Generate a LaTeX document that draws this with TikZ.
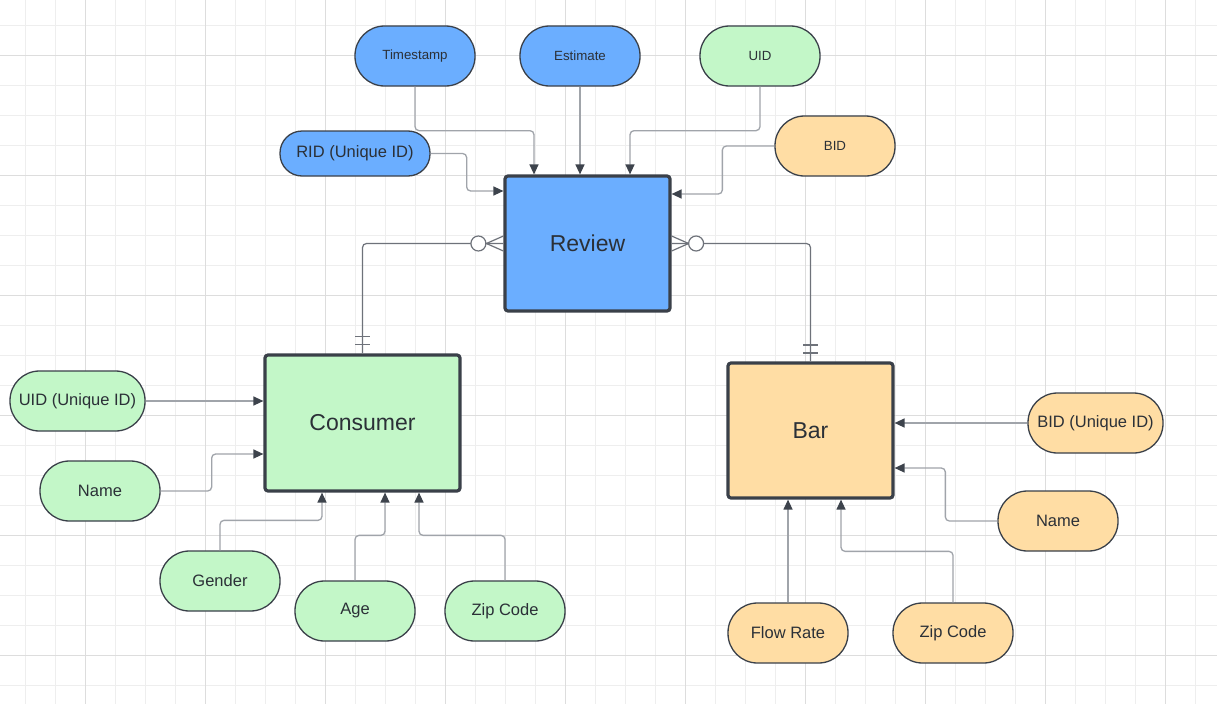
\documentclass[tikz,border=0pt]{standalone}
\usepackage{fontspec}
\setmainfont{Liberation Sans}
\usetikzlibrary{arrows.meta}
\definecolor{bluef}{HTML}{6BAEFF}
\definecolor{greenf}{HTML}{C3F7C8}
\definecolor{orangef}{HTML}{FFDDA4}
\definecolor{bord}{HTML}{3A4049}
\definecolor{txt}{HTML}{2B3037}
\definecolor{connc}{HTML}{A0A4AA}
\definecolor{tipc}{HTML}{3D434C}
\definecolor{relc}{HTML}{6E727A}
\definecolor{gridmin}{HTML}{EEEEEE}
\definecolor{gridmaj}{HTML}{DDDDDD}
\tikzset{
  entity/.style={draw=bord, line width=3.2pt, rounded corners=3pt, minimum width=#1, minimum height=135pt, inner sep=0pt, text=txt, font=\fontsize{23}{26}\selectfont},
  attr/.style={draw=bord, line width=1.3pt, rounded corners=29.5pt, minimum width=#1, minimum height=60pt, inner sep=0pt, text=txt, font=\fontsize{16.5}{19}\selectfont},
  sattr/.style={attr=120pt, font=\fontsize{13.3}{16}\selectfont},
  conn/.style={draw=connc, line width=1.3pt, rounded corners=4pt, -{Triangle[length=10pt,width=9pt,color=tipc]}},
  rel/.style={draw=relc, line width=1.2pt, rounded corners=4pt},
}
\begin{document}
\begin{tikzpicture}[x=1pt,y=-1pt]
\useasboundingbox (0,0) rectangle (1217,704);
\fill[white] (0,0) rectangle (1217,704);
% grid
\foreach \x in {25,55,...,1215} \draw[gridmin, line width=1pt] (\x,0) -- (\x,704);
\foreach \y in {25,55,...,700} \draw[gridmin, line width=1pt] (0,\y) -- (1217,\y);
\foreach \x in {85,205,...,1165} \draw[gridmaj, line width=1pt] (\x,0) -- (\x,704);
\foreach \y in {55,175,...,655} \draw[gridmaj, line width=1pt] (0,\y) -- (1217,\y);

% entities
\node[entity=165pt, fill=bluef] (rev) at (587.5,243.5) {Review};
\node[entity=195pt, fill=greenf, minimum height=136pt] (con) at (362.5,423) {Consumer};
\node[entity=165pt, fill=orangef] (bar) at (810.5,430.5) {Bar};

% review attributes
\node[sattr, fill=bluef] (ts) at (415,56) {Timestamp};
\node[sattr, fill=bluef] (est) at (580,56) {Estimate};
\node[sattr, fill=greenf] (uidt) at (760,56) {UID};
\node[sattr, fill=orangef] (bidt) at (835,146) {BID};
\node[attr=150pt, fill=bluef, minimum height=45pt, rounded corners=22pt] (rid) at (355,153.5) {RID (Unique ID)};

% consumer attributes
\node[attr=135pt, fill=greenf] (uidu) at (77.5,401) {UID (Unique ID)};
\node[attr=120pt, fill=greenf] (nameg) at (100,491) {Name};
\node[attr=120pt, fill=greenf] (gen) at (220,581) {Gender};
\node[attr=120pt, fill=greenf] (age) at (355,611) {Age};
\node[attr=120pt, fill=greenf] (zipg) at (505,611) {Zip Code};

% bar attributes
\node[attr=135pt, fill=orangef] (bidu) at (1095.5,423) {BID (Unique ID)};
\node[attr=120pt, fill=orangef] (nameo) at (1058,521) {Name};
\node[attr=120pt, fill=orangef] (flow) at (788,633) {Flow Rate};
\node[attr=120pt, fill=orangef] (zipo) at (953,633) {Zip Code};

% connectors to review
\draw[conn] (ts.south) -- ++(0,44) -| ([xshift=-53.5pt]rev.north);
\draw[conn] (est.south) -- (est.south |- rev.north);
\draw[conn] (uidt.south) -- ++(0,44) -| ([xshift=42.5pt]rev.north);
\draw[conn] (rid.east) -- ++(36,0) |- ([yshift=52.5pt]rev.west);
\draw[conn] (bidt.west) -- ++(-52,0) |- ([yshift=49.5pt]rev.east);

% connectors to consumer
\draw[conn] (uidu.east) -- (uidu.east -| con.west);
\draw[conn] (nameg.east) -- ++(51,0) |- ([yshift=-31pt]con.west);
\draw[conn] (gen.north) -- ++(0,-30) -| ([xshift=-40.5pt]con.south);
\draw[conn] (age.north) -- ++(0,-45) -| ([xshift=22.5pt]con.south);
\draw[conn] (zipg.north) -- ++(0,-45) -| ([xshift=56.5pt]con.south);

% connectors to bar
\draw[conn] (bidu.west) -- (bidu.west -| bar.east);
\draw[conn] (nameo.west) -- ++(-52,0) |- ([yshift=-37.5pt]bar.east);
\draw[conn] (flow.north) -- (flow.north |- bar.south);
\draw[conn] (zipo.north) -- ++(0,-51) -| ([xshift=30.5pt]bar.south);

% relationship review - consumer
\draw[rel] (rev.west) -| (con.north);
\draw[rel, rounded corners=0pt] ([yshift=7.5pt]rev.west) -- ([xshift=-17pt]rev.west) -- ([yshift=-7.5pt]rev.west);
\draw[rel, rounded corners=0pt] ([xshift=-17pt]rev.west) -- (rev.west);
\draw[rel, fill=white] ([xshift=-25pt]rev.west) circle (7.5pt);
\draw[rel] ([xshift=-7.5pt,yshift=17pt]con.north) -- ++(15,0);
\draw[rel] ([xshift=-7.5pt,yshift=9pt]con.north) -- ++(15,0);

% relationship review - bar
\draw[rel] (rev.east) -| (bar.north);
\draw[rel, rounded corners=0pt] ([yshift=7.5pt]rev.east) -- ([xshift=17pt]rev.east) -- ([yshift=-7.5pt]rev.east);
\draw[rel, rounded corners=0pt] ([xshift=17pt]rev.east) -- (rev.east);
\draw[rel, fill=white] ([xshift=24.5pt]rev.east) circle (7.5pt);
\draw[rel] ([xshift=-7.5pt,yshift=16.5pt]bar.north) -- ++(15,0);
\draw[rel] ([xshift=-7.5pt,yshift=8.5pt]bar.north) -- ++(15,0);
\end{tikzpicture}
\end{document}
